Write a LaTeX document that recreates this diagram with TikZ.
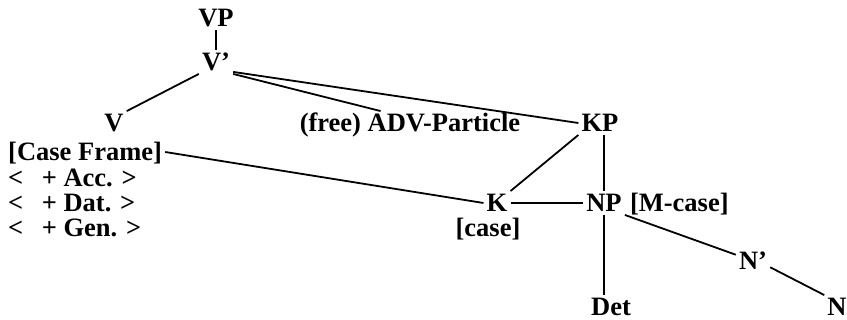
\documentclass[tikz,border=0pt]{standalone}
\usepackage{fontspec}
\setmainfont{Liberation Serif}
\usetikzlibrary{positioning}
\tikzset{
	cat/.style={font=\fontsize{26.5}{30}\selectfont\bfseries,inner sep=3pt,
		text height=17.5pt,text depth=0pt},
	branch/.style={draw=black,line width=1.8pt},
}
\begin{document}
\begin{tikzpicture}[x=1pt,y=-1pt]
	\useasboundingbox (0,0) rectangle (847,320);
	% tree nodes
	\node[cat] (VP) at (216,18) {VP};
	\node[cat] (Vbar) at (216,62) {V'};
	\node[cat] (V) at (114,123) {V};
	\node[cat] (ADV) at (410,123) {(free) ADV-Particle};
	\node[cat] (KP) at (600,123) {KP};
	\node[cat] (K) at (497,203) {K};
	\node[cat] (NP) at (604,203) {NP};
	\node[cat,right=2pt of NP] (MC) {[M-case]};
	\node[cat] (Nbar) at (753,261) {N'};
	\node[cat] (Det) at (611,307) {Det};
	\node[cat] (N) at (837,307) {N};
	% features
	\node[cat] (KC) at (488,228) {[case]};
	\node[cat,anchor=west] (CF) at (5,152) {[Case Frame]};
	\foreach \c/\y in {Acc/178,Dat/203,Gen/228}
		\node[cat,anchor=west] (\c) at (5,\y) {<\hspace{0.7em}+ \c. >};
	% branches
	\draw[branch] (VP.south) -- (VP.south |- Vbar.north);
	\foreach \a/\b in {Vbar.south west/V.north east,Vbar.-30/KP.west,
		CF.east/K.west,KP.south west/K.north east,K.east/NP.west,
		NP.south east/Nbar.160,Nbar.-20/N.north west}
		\draw[branch] (\a) -- (\b);
	\draw[branch] (Vbar.south east) -- ([xshift=84pt]ADV.north west);
	\draw[branch] (NP.north) -- (NP.north |- KP.south);
	\draw[branch] (NP.south) -- (NP.south |- Det.north);
\end{tikzpicture}
\end{document}
